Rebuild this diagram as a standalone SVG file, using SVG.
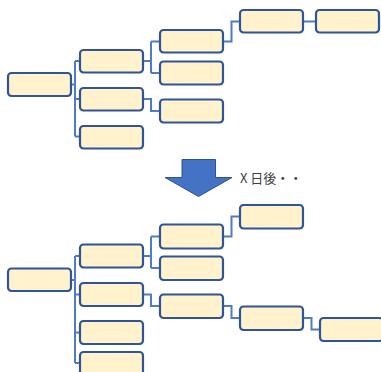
<svg xmlns="http://www.w3.org/2000/svg" width="381" height="372" viewBox="0 0 381 372">
<style>
.n{fill:#FFF2CC;stroke:#2F5597;stroke-width:2.2}
.c{fill:none;stroke:#4F7BCB;stroke-width:2;stroke-linejoin:miter}
.t{font-family:"Noto Sans CJK JP","Liberation Sans",sans-serif;font-size:13px;fill:#404040}
</style>
<rect width="381" height="372" fill="#fff"/>
<g id="connectors">
<path class="c" d="M71 84.5H75M75 61V136.5M75 61H80M75 99H80M75 136.5H80"/>
<path class="c" d="M143 61H151M151 41.5V73M151 41.5H160M151 73H160"/>
<path class="c" d="M143 99H151V111H160"/>
<path class="c" d="M223 41.5H231.5V21.5H240"/>
<path class="c" d="M303 21.5H316"/>
<path class="c" d="M71 280H75M75 256V363M75 256H80M75 294.5H80M75 332.5H80M75 363H80"/>
<path class="c" d="M143 256H151M151 236.5V268M151 236.5H160M151 268H160"/>
<path class="c" d="M143 294.5H151V306H160"/>
<path class="c" d="M223 236.5H231.5V216.5H240"/>
<path class="c" d="M223 306H231.5V318H240"/>
<path class="c" d="M303 318H311.5V329.5H320"/>
</g>
<g id="top-root"><rect class="n" x="8" y="73" width="63" height="23" rx="3.5"/></g>
<g id="top-l2a"><rect class="n" x="80" y="50" width="63" height="22.5" rx="3.5"/></g>
<g id="top-l2b"><rect class="n" x="80" y="88" width="63" height="22.5" rx="3.5"/></g>
<g id="top-l2c"><rect class="n" x="80" y="126" width="63" height="22.5" rx="3.5"/></g>
<g id="top-l3a"><rect class="n" x="160" y="30" width="63" height="22.5" rx="3.5"/></g>
<g id="top-l3b"><rect class="n" x="160" y="61.5" width="63" height="23" rx="3.5"/></g>
<g id="top-l3c"><rect class="n" x="160" y="99.5" width="63" height="23" rx="3.5"/></g>
<g id="top-l4"><rect class="n" x="240" y="10" width="63" height="22.5" rx="3.5"/></g>
<g id="top-l5"><rect class="n" x="316" y="10" width="63" height="22.5" rx="3.5"/></g>
<g id="arrow"><path d="M182 159.5H215.5V177.5H232L198.5 196.5L165 177.5H182Z" fill="#4472C4" stroke="#2F528F" stroke-width="1"/></g>
<g id="label"><text class="t" x="240" y="182.5">X 日後・・</text></g>
<g id="bot-root"><rect class="n" x="8" y="268.5" width="63" height="22.5" rx="3.5"/></g>
<g id="bot-l2a"><rect class="n" x="80" y="244.5" width="63" height="23" rx="3.5"/></g>
<g id="bot-l2b"><rect class="n" x="80" y="283" width="63" height="23" rx="3.5"/></g>
<g id="bot-l2c"><rect class="n" x="80" y="321" width="63" height="23" rx="3.5"/></g>
<g id="bot-l2d"><rect class="n" x="80" y="352" width="63" height="23" rx="3.5"/></g>
<g id="bot-l3a"><rect class="n" x="160" y="224.5" width="63" height="24" rx="3.5"/></g>
<g id="bot-l3b"><rect class="n" x="160" y="256.5" width="63" height="23.5" rx="3.5"/></g>
<g id="bot-l3c"><rect class="n" x="160" y="294.5" width="63" height="23.5" rx="3.5"/></g>
<g id="bot-l4a"><rect class="n" x="240" y="205" width="63" height="23.5" rx="3.5"/></g>
<g id="bot-l4b"><rect class="n" x="240" y="306.5" width="63" height="23.5" rx="3.5"/></g>
<g id="bot-l5"><rect class="n" x="320" y="318" width="63" height="23" rx="3.5"/></g>
</svg>
